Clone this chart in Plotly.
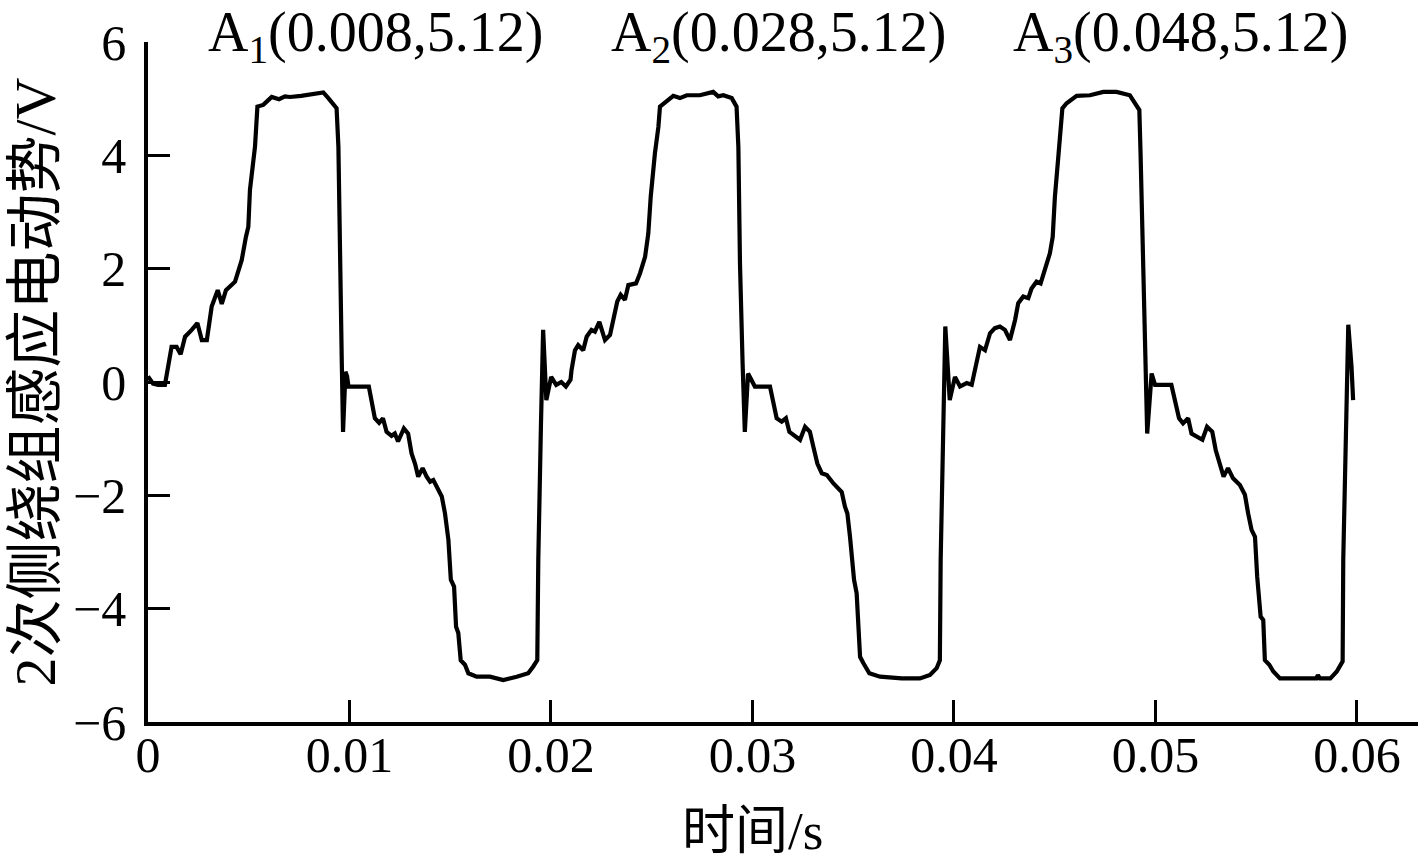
import plotly.graph_objects as go

# ---- data (time in s, EMF in V) ----
time_cycle1 = [0.00000, 0.00025, 0.00050, 0.00084, 0.00117, 0.00142, 0.00162, 0.00184, 0.00217, 0.00245,
               0.00267, 0.00292, 0.00316, 0.00346, 0.00366, 0.00387, 0.00432, 0.00465, 0.00486, 0.00498,
               0.00506, 0.00523, 0.00531, 0.00543, 0.00572, 0.00614, 0.00650, 0.00680, 0.00705, 0.00760,
               0.00837, 0.00870, 0.00895, 0.00925, 0.00936, 0.00945, 0.00953, 0.00961, 0.00968, 0.00980,
               0.00988, 0.00995, 0.01096, 0.01108, 0.01126, 0.01147, 0.01166, 0.01184, 0.01209, 0.01225,
               0.01241, 0.01270, 0.01291, 0.01308, 0.01325, 0.01341, 0.01363, 0.01383, 0.01400, 0.01416,
               0.01441, 0.01458, 0.01474, 0.01491, 0.01503, 0.01519, 0.01529, 0.01540, 0.01552, 0.01573,
               0.01590, 0.01631, 0.01697, 0.01763, 0.01830, 0.01887, 0.01912, 0.01932, 0.01937, 0.01945,
               0.01950, 0.01961, 0.01977]
emf_cycle1 = [0.10, -0.03, -0.05, -0.05, 0.62, 0.62, 0.49, 0.80, 0.92, 1.04,
              0.74, 0.74, 1.33, 1.62, 1.38, 1.62, 1.77, 2.15, 2.56, 2.74,
              3.39, 3.98, 4.15, 4.86, 4.89, 5.03, 4.99, 5.04, 5.03, 5.05,
              5.08, 5.11, 5.01, 4.89, 4.83, 4.15, 1.80, 0.51, -0.88, 0.18,
              0.10, -0.08, -0.08, -0.32, -0.64, -0.72, -0.64, -0.88, -0.95, -0.91,
              -1.05, -0.82, -0.91, -1.26, -1.44, -1.67, -1.52, -1.67, -1.76, -1.73,
              -1.91, -2.02, -2.32, -2.79, -3.49, -3.61, -4.32, -4.43, -4.91, -4.99,
              -5.14, -5.20, -5.20, -5.26, -5.20, -5.14, -5.02, -4.91, -3.14, -1.38,
              -0.79, 0.92, -0.32]

time_cycle2 = [0.02001, 0.02026, 0.02051, 0.02074, 0.02097, 0.02102, 0.02119, 0.02135, 0.02160, 0.02177,
               0.02201, 0.02218, 0.02240, 0.02268, 0.02293, 0.02309, 0.02329, 0.02346, 0.02367, 0.02384,
               0.02422, 0.02442, 0.02467, 0.02483, 0.02495, 0.02516, 0.02533, 0.02541, 0.02574, 0.02607,
               0.02640, 0.02674, 0.02739, 0.02805, 0.02830, 0.02855, 0.02897, 0.02921, 0.02930, 0.02938,
               0.02951, 0.02962, 0.02978, 0.03000, 0.03012, 0.03087, 0.03103, 0.03120, 0.03145, 0.03166,
               0.03183, 0.03211, 0.03236, 0.03261, 0.03285, 0.03302, 0.03322, 0.03344, 0.03369, 0.03402,
               0.03443, 0.03459, 0.03471, 0.03484, 0.03504, 0.03517, 0.03534, 0.03550, 0.03580, 0.03633,
               0.03741, 0.03831, 0.03881, 0.03914, 0.03930, 0.03934, 0.03947, 0.03957, 0.03979]
emf_cycle2 = [0.09, -0.05, 0.00, -0.08, 0.04, 0.21, 0.56, 0.65, 0.56, 0.80,
              0.92, 0.89, 1.06, 0.74, 0.83, 1.09, 1.42, 1.54, 1.45, 1.71,
              1.74, 1.92, 2.21, 2.62, 3.27, 4.04, 4.50, 4.86, 4.95, 5.05,
              5.01, 5.06, 5.06, 5.12, 5.04, 5.06, 5.01, 4.86, 4.15, 2.09,
              0.33, -0.88, 0.15, -0.02, -0.08, -0.08, -0.32, -0.64, -0.70, -0.64,
              -0.88, -0.96, -1.02, -0.79, -0.88, -1.14, -1.44, -1.61, -1.64, -1.79,
              -1.94, -2.20, -2.32, -2.73, -3.49, -3.73, -4.85, -4.96, -5.14, -5.20,
              -5.23, -5.23, -5.17, -5.05, -4.91, -3.14, -0.91, 0.98, -0.32]

time_cycle3 = [0.04005, 0.04030, 0.04063, 0.04088, 0.04113, 0.04129, 0.04154, 0.04179, 0.04203, 0.04228,
               0.04253, 0.04278, 0.04303, 0.04319, 0.04344, 0.04369, 0.04385, 0.04410, 0.04430, 0.04452,
               0.04476, 0.04490, 0.04501, 0.04518, 0.04531, 0.04538, 0.04559, 0.04609, 0.04675, 0.04741,
               0.04807, 0.04873, 0.04898, 0.04920, 0.04926, 0.04936, 0.04948, 0.04959, 0.04981, 0.04998,
               0.05079, 0.05096, 0.05117, 0.05137, 0.05162, 0.05179, 0.05203, 0.05233, 0.05256, 0.05282,
               0.05299, 0.05318, 0.05338, 0.05360, 0.05385, 0.05419, 0.05444, 0.05460, 0.05477, 0.05494,
               0.05505, 0.05522, 0.05535, 0.05543, 0.05565, 0.05585, 0.05618, 0.05799, 0.05806, 0.05816,
               0.05868, 0.05900, 0.05929, 0.05932, 0.05945, 0.05957, 0.05973, 0.05981]
emf_cycle3 = [0.09, -0.08, -0.02, -0.05, 0.39, 0.62, 0.56, 0.86, 0.95, 0.98,
              0.92, 0.74, 1.09, 1.39, 1.51, 1.48, 1.65, 1.77, 1.74, 1.98,
              2.27, 2.56, 3.27, 3.98, 4.50, 4.83, 4.92, 5.05, 5.06, 5.12,
              5.12, 5.06, 4.92, 4.80, 4.04, 2.39, 0.33, -0.91, 0.15, -0.05,
              -0.05, -0.32, -0.64, -0.73, -0.64, -0.91, -0.96, -1.02, -0.79, -0.88,
              -1.20, -1.44, -1.67, -1.52, -1.70, -1.82, -1.99, -2.32, -2.61, -2.73,
              -3.44, -4.14, -4.20, -4.91, -4.99, -5.11, -5.23, -5.23, -5.17, -5.23,
              -5.23, -5.11, -4.93, -3.14, -0.79, 1.01, 0.27, -0.32]

x_tick_vals = [0, 0.01, 0.02, 0.03, 0.04, 0.05, 0.06]
x_tick_text = ["0", "0.01", "0.02", "0.03", "0.04", "0.05", "0.06"]
y_tick_vals = [-6, -4, -2, 0, 2, 4, 6]

peak_labels = ["A<sub>1</sub>(0.008,5.12)", "A<sub>2</sub>(0.028,5.12)", "A<sub>3</sub>(0.048,5.12)"]
peak_label_x = [0.01131, 0.03127, 0.05122]

x_title = "时间/s"
y_title = "2次侧绕组感应电动势/V"

time_s = time_cycle1 + time_cycle2 + time_cycle3
emf_v = emf_cycle1 + emf_cycle2 + emf_cycle3

SERIF = "Liberation Serif, 'Noto Sans CJK SC', serif"

fig = go.Figure()
fig.add_trace(go.Scatter(x=time_s, y=emf_v, mode="lines",
                         line=dict(color="black", width=4.2), showlegend=False,
                         hoverinfo="skip"))

for txt, xv in zip(peak_labels, peak_label_x):
    fig.add_annotation(x=xv, y=1.0615, xref="x", yref="paper", text=txt, showarrow=False,
                       xanchor="center", yanchor="top", borderpad=0,
                       font=dict(family=SERIF, size=56, color="black"))

# x-axis title, centred under the 0 - 0.06 span
fig.add_annotation(x=0.03, y=-0.16, xref="x", yref="paper", text=x_title, showarrow=False,
                   xanchor="center", yanchor="middle",
                   font=dict(family=SERIF, size=53, color="black"))

fig.update_layout(
    width=1418, height=866,
    margin=dict(l=148, r=0, t=42, b=144, pad=0),
    paper_bgcolor="white", plot_bgcolor="white",
    font=dict(family=SERIF, color="black"),
)
fig.update_xaxes(
    range=[0, 0.06303], tickvals=x_tick_vals, ticktext=x_tick_text,
    ticks="inside", ticklen=22, tickwidth=3, tickcolor="black",
    showline=True, linecolor="black", linewidth=3.5,
    showgrid=False, zeroline=False,
    tickfont=dict(family=SERIF, size=50, color="black"),
    ticklabelstandoff=-14,
)
fig.update_yaxes(
    range=[-6, 6], tickvals=y_tick_vals,
    ticks="inside", ticklen=22, tickwidth=3, tickcolor="black",
    showline=True, linecolor="black", linewidth=3.5,
    showgrid=False, zeroline=False,
    tickfont=dict(family=SERIF, size=50, color="black"),
    ticklabelstandoff=8,
    title=dict(text=y_title, font=dict(family=SERIF, size=58, color="black"), standoff=0),
)

fig.write_html("out.html", config={"displayModeBar": False},
               post_script="document.body.style.margin='0';document.body.style.overflow='hidden';")
